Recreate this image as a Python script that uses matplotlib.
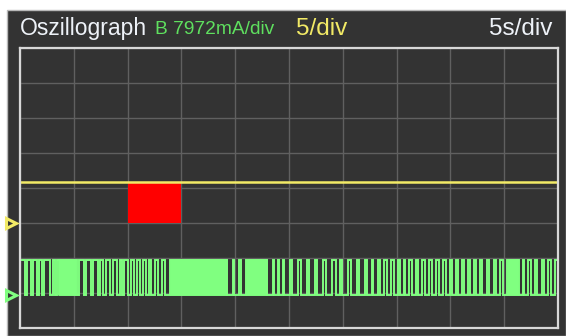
import matplotlib
matplotlib.use("Agg")
import matplotlib.pyplot as plt
from matplotlib.patches import Rectangle

# ---- data ----
time_range = [0, 50]          # seconds (10 div x 5 s/div)
div_range = [0, 8]            # vertical divisions
title_text = "Oszillograph"
ch_b_text = "B 7972mA/div"
ch_a_scale_text = "5/div"
time_scale_text = "5s/div"

yellow_level = 4.17           # divisions
yellow_marker = 3.0
green_marker = 0.95
green_low = 0.95
green_high = 1.95

red_t = [10.0, 15.0]
red_y = [3.0, 4.17]

# intervals where the digital signal holds low (seconds)
low_holds = [
    (0.42, 0.68), (0.98, 1.25), (1.54, 1.80), (2.00, 2.27), (2.75, 3.10), (3.22, 3.48),
    (5.26, 5.52), (5.91, 6.17), (6.56, 6.82), (7.21, 7.47), (7.76, 8.03), (8.41, 8.68),
    (9.06, 9.33), (9.45, 9.70), (10.00, 10.35), (10.55, 10.91), (11.11, 11.47),
    (11.67, 12.02), (12.22, 12.58), (12.78, 13.23), (13.52, 13.97),
    (19.28, 19.83), (19.93, 20.39), (20.58, 21.04),
    (23.00, 23.54), (23.65, 24.01), (24.11, 24.47), (24.58, 25.12), (25.32, 25.87),
    (26.16, 26.70), (26.90, 27.45), (27.64, 28.19), (28.48, 29.02), (29.41, 29.77),
    (29.97, 30.51), (30.80, 31.35), (31.55, 32.09), (32.29, 32.74), (32.85, 33.30),
    (33.50, 33.86), (34.15, 34.51), (34.80, 35.16), (35.36, 35.71), (35.82, 36.18),
    (36.47, 36.83), (37.03, 37.39), (37.68, 38.04), (38.33, 38.69), (38.98, 39.34),
    (39.63, 39.99), (40.19, 40.54), (40.74, 41.10), (41.30, 41.66), (41.86, 42.22),
    (42.42, 42.77), (42.97, 43.42), (43.62, 44.07), (44.27, 44.63), (44.92, 45.28),
    (46.41, 46.77), (46.87, 47.23), (47.52, 47.88), (48.08, 48.53), (48.73, 49.09),
    (49.38, 49.74),
]
# intervals of very fast toggling (appear solid)
dense_spans = [(3.62, 5.16), (14.05, 19.20), (21.12, 22.95), (45.38, 46.30)]

# ---- style ----
BG = "#333333"
GRID = "#606060"
BORDER = "#d8d8d8"
YELLOW = "#f2ea66"
GREEN = "#80ff80"
GREEN_TXT = "#5fe05f"

W, H = 566, 336
fig = plt.figure(figsize=(W / 100, H / 100), dpi=100)
fig.patch.set_facecolor("white")

# dark panel
panel = Rectangle((7 / W, 0), 1 - 7 / W, 1 - 10 / H, transform=fig.transFigure,
                  facecolor=BG, edgecolor="#b8b8b8", linewidth=1.0, zorder=-10)
fig.patches.append(panel)

ax = fig.add_axes([20 / W, (H - 328) / H, 538 / W, 280 / H])
ax.set_zorder(2)
ax.set_facecolor(BG)
ax.set_xlim(*time_range)
ax.set_ylim(*div_range)
ax.set_xticks([i * 5 for i in range(11)])
ax.set_yticks(range(9))
ax.tick_params(length=0, labelbottom=False, labelleft=False)
ax.grid(True, color=GRID, linewidth=1.0)
for s in ax.spines.values():
    s.set_color(BORDER)
    s.set_linewidth(1.6)
    s.set_zorder(5)

# red rectangle
ax.add_patch(Rectangle((red_t[0], red_y[0]), red_t[1] - red_t[0], red_y[1] - red_y[0],
                       facecolor="#ff0000", edgecolor="none", zorder=2))

# yellow trace
ax.plot(time_range, [yellow_level, yellow_level], color=YELLOW, linewidth=1.8, zorder=3)

# green digital trace
xs = [time_range[0], time_range[0]]
ys = [green_low, green_high]
for a, b in low_holds:
    xs += [a, a, b, b]
    ys += [green_high, green_low, green_low, green_high]
xs.append(time_range[1])
ys.append(green_high)
ax.plot(xs, ys, color=GREEN, linewidth=1.4, zorder=3, solid_joinstyle="miter")
for a, b in dense_spans:
    ax.fill_between([a, b], green_low, green_high, color=GREEN, linewidth=1.4,
                    edgecolor=GREEN, zorder=3)

# channel markers
mx = -0.8
ax.plot([mx], [yellow_marker], marker=">", markersize=7.5, markerfacecolor=BG,
        markeredgecolor=YELLOW, markeredgewidth=2.2, clip_on=False, zorder=6)
ax.plot([mx], [green_marker], marker=">", markersize=7.5, markerfacecolor=BG,
        markeredgecolor=GREEN, markeredgewidth=2.2, clip_on=False, zorder=6)

# header texts
ty = 1 - 29 / H
fam = ["Liberation Sans", "DejaVu Sans"]
fig.text(20 / W, ty, title_text, color="#eef2f8", fontsize=16.5, family=fam, va="center", ha="left")
fig.text(155 / W, ty, ch_b_text, color=GREEN_TXT, fontsize=13.8, family=fam, va="center", ha="left")
fig.text(296 / W, ty, ch_a_scale_text, color=YELLOW, fontsize=17.5, family=fam, va="center", ha="left")
fig.text(552 / W, ty, time_scale_text, color="#eef2f8", fontsize=17.5, family=fam, va="center", ha="right")

fig.savefig("out.png", dpi=100, facecolor=fig.get_facecolor())
